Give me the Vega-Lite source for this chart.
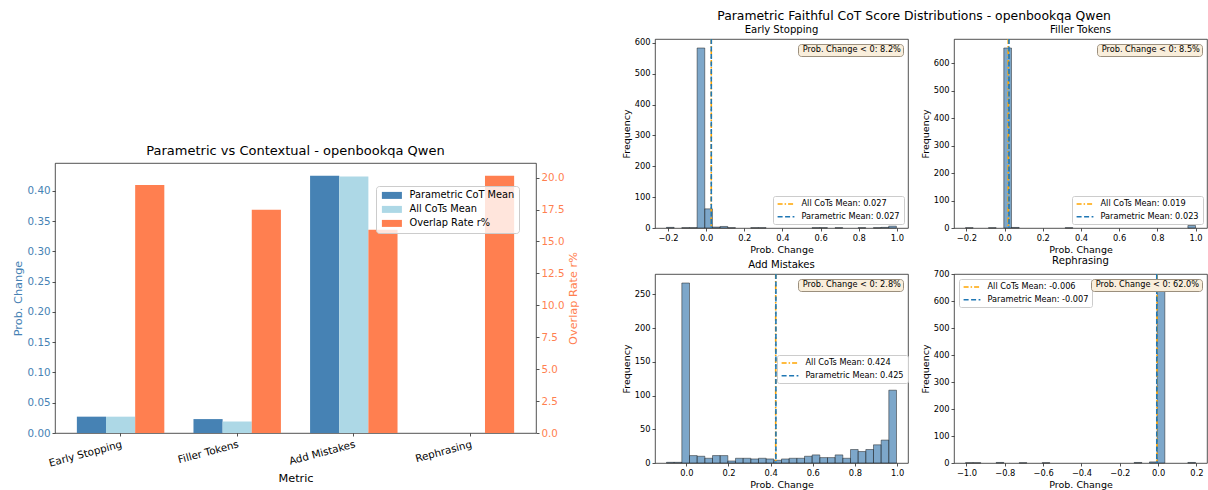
{
  "$schema": "https://vega.github.io/schema/vega-lite/v6.json",
  "padding": {"left": 11, "top": 9, "right": 0, "bottom": 0},
  "config": {
    "font": "DejaVu Sans",
    "background": "white",
    "view": {"stroke": "#262626", "strokeWidth": 0.8},
    "axis": {"grid": false, "domain": false, "tickColor": "#262626", "tickSize": 3, "tickWidth": 0.8, "labelColor": "#000", "titleColor": "#000", "labelFontSize": 8.3, "titleFontSize": 9.5, "titleFontWeight": "normal", "labelPadding": 2, "titlePadding": 3, "labelFlush": false, "labelOverlap": false, "labelFont": "DejaVu Sans", "titleFont": "DejaVu Sans"},
    "title": {"fontWeight": "normal", "color": "#000", "font": "DejaVu Sans"},
    "legend": {"labelFont": "DejaVu Sans", "labelColor": "#000"}
  },
  "datasets": {
    "overview": [
      {"metric": "Early Stopping", "series": "Parametric CoT Mean", "value": 0.027},
      {"metric": "Early Stopping", "series": "All CoTs Mean", "value": 0.027},
      {"metric": "Early Stopping", "series": "Overlap Rate r%", "value": 19.43},
      {"metric": "Filler Tokens", "series": "Parametric CoT Mean", "value": 0.023},
      {"metric": "Filler Tokens", "series": "All CoTs Mean", "value": 0.019},
      {"metric": "Filler Tokens", "series": "Overlap Rate r%", "value": 17.48},
      {"metric": "Add Mistakes", "series": "Parametric CoT Mean", "value": 0.425},
      {"metric": "Add Mistakes", "series": "All CoTs Mean", "value": 0.424},
      {"metric": "Add Mistakes", "series": "Overlap Rate r%", "value": 15.92},
      {"metric": "Rephrasing", "series": "Parametric CoT Mean", "value": 0},
      {"metric": "Rephrasing", "series": "All CoTs Mean", "value": 0},
      {"metric": "Rephrasing", "series": "Overlap Rate r%", "value": 20.14}
    ],
    "es_bins": [
      {"start": -0.208, "end": -0.1678, "count": 2},
      {"start": -0.1277, "end": -0.0875, "count": 1},
      {"start": -0.0875, "end": -0.0473, "count": 1},
      {"start": -0.0473, "end": -0.0072, "count": 583},
      {"start": -0.0072, "end": 0.033, "count": 62},
      {"start": 0.033, "end": 0.0732, "count": 3},
      {"start": 0.0732, "end": 0.1134, "count": 5},
      {"start": 0.1134, "end": 0.1535, "count": 1},
      {"start": 0.2339, "end": 0.274, "count": 1},
      {"start": 0.274, "end": 0.3142, "count": 1},
      {"start": 0.5552, "end": 0.5954, "count": 1},
      {"start": 0.5954, "end": 0.6356, "count": 1},
      {"start": 0.6757, "end": 0.7159, "count": 1},
      {"start": 0.7963, "end": 0.8364, "count": 1},
      {"start": 0.8766, "end": 0.9168, "count": 1},
      {"start": 0.9168, "end": 0.9569, "count": 2},
      {"start": 0.9569, "end": 0.9971, "count": 6}
    ],
    "ft_bins": [
      {"start": -0.205, "end": -0.1648, "count": 1},
      {"start": -0.0845, "end": -0.0443, "count": 1},
      {"start": -0.0042, "end": 0.036, "count": 655},
      {"start": 0.036, "end": 0.0762, "count": 2},
      {"start": 0.3172, "end": 0.3574, "count": 1},
      {"start": 0.9599, "end": 1.0, "count": 9}
    ],
    "am_bins": [
      {"start": -0.094, "end": -0.0576, "count": 1},
      {"start": -0.0576, "end": -0.0213, "count": 1},
      {"start": -0.0213, "end": 0.0151, "count": 267},
      {"start": 0.0151, "end": 0.0515, "count": 11},
      {"start": 0.0515, "end": 0.0879, "count": 10},
      {"start": 0.0879, "end": 0.1242, "count": 7},
      {"start": 0.1242, "end": 0.1606, "count": 11},
      {"start": 0.1606, "end": 0.197, "count": 11},
      {"start": 0.197, "end": 0.2333, "count": 3},
      {"start": 0.2333, "end": 0.2697, "count": 7},
      {"start": 0.2697, "end": 0.3061, "count": 7},
      {"start": 0.3061, "end": 0.3424, "count": 6},
      {"start": 0.3424, "end": 0.3788, "count": 7},
      {"start": 0.3788, "end": 0.4152, "count": 6},
      {"start": 0.4152, "end": 0.4516, "count": 4},
      {"start": 0.4516, "end": 0.4879, "count": 6},
      {"start": 0.4879, "end": 0.5243, "count": 7},
      {"start": 0.5243, "end": 0.5607, "count": 7},
      {"start": 0.5607, "end": 0.597, "count": 10},
      {"start": 0.597, "end": 0.6334, "count": 12},
      {"start": 0.6334, "end": 0.6698, "count": 8},
      {"start": 0.6698, "end": 0.7061, "count": 8},
      {"start": 0.7061, "end": 0.7425, "count": 12},
      {"start": 0.7425, "end": 0.7789, "count": 7},
      {"start": 0.7789, "end": 0.8153, "count": 20},
      {"start": 0.8153, "end": 0.8516, "count": 17},
      {"start": 0.8516, "end": 0.888, "count": 20},
      {"start": 0.888, "end": 0.9244, "count": 27},
      {"start": 0.9244, "end": 0.9607, "count": 34},
      {"start": 0.9607, "end": 0.9971, "count": 108}
    ],
    "re_bins": [
      {"start": -1.005, "end": -0.965, "count": 1},
      {"start": -0.965, "end": -0.925, "count": 1},
      {"start": -0.845, "end": -0.805, "count": 2},
      {"start": -0.725, "end": -0.685, "count": 1},
      {"start": -0.605, "end": -0.565, "count": 1},
      {"start": -0.125, "end": -0.085, "count": 2},
      {"start": -0.045, "end": -0.005, "count": 4},
      {"start": -0.005, "end": 0.035, "count": 667},
      {"start": 0.155, "end": 0.195, "count": 2}
    ],
    "es_means": [{"label": "All CoTs Mean: 0.027", "mean": 0.027}, {"label": "Parametric Mean: 0.027", "mean": 0.027}],
    "ft_means": [{"label": "All CoTs Mean: 0.019", "mean": 0.019}, {"label": "Parametric Mean: 0.023", "mean": 0.023}],
    "am_means": [{"label": "All CoTs Mean: 0.424", "mean": 0.424}, {"label": "Parametric Mean: 0.425", "mean": 0.425}],
    "re_means": [{"label": "All CoTs Mean: -0.006", "mean": -0.006}, {"label": "Parametric Mean: -0.007", "mean": -0.007}],
    "es_note": [{"note": "Prob. Change < 0: 8.2%"}],
    "ft_note": [{"note": "Prob. Change < 0: 8.5%"}],
    "am_note": [{"note": "Prob. Change < 0: 2.8%"}],
    "re_note": [{"note": "Prob. Change < 0: 62.0%"}]
  },
  "resolve": {"scale": {"color": "independent", "strokeDash": "independent", "shape": "independent"}, "legend": {"color": "independent", "strokeDash": "independent", "shape": "independent"}},
  "spacing": 40,
  "hconcat": [
    {
      "spacing": 0,
      "resolve": {"scale": {"color": "independent"}, "legend": {"color": "independent"}},
      "vconcat": [
        {"width": 481, "height": 105, "data": {"values": []}, "mark": "point", "view": {"stroke": null}},
        {
          "width": 481,
          "height": 270,
          "title": {"text": "Parametric vs Contextual - openbookqa Qwen", "fontSize": 13, "frame": "group", "offset": 5},
          "data": {"name": "overview"},
          "layer": [
            {
              "transform": [{"filter": "datum.series !== 'Overlap Rate r%'"}],
              "mark": {"type": "bar"},
              "encoding": {
                "x": {"field": "metric", "type": "nominal", "sort": ["Early Stopping", "Filler Tokens", "Add Mistakes", "Rephrasing"], "scale": {"paddingInner": 0.25, "paddingOuter": 0.1875}, "axis": {"title": "Metric", "labelAngle": -15, "labelAlign": "right", "labelBaseline": "top", "bandPosition": 0.5, "labelFontSize": 10.3, "titleFontSize": 11.3, "labelPadding": 3, "titlePadding": 4}},
                "xOffset": {"field": "series", "type": "nominal", "sort": ["Parametric CoT Mean", "All CoTs Mean", "Overlap Rate r%"], "scale": {"domain": ["Parametric CoT Mean", "All CoTs Mean", "Overlap Rate r%"], "paddingInner": 0, "paddingOuter": 0}},
                "y": {"field": "value", "type": "quantitative", "scale": {"domain": [0, 0.44625], "nice": false}, "axis": {"title": "Prob. Change", "values": [0, 0.05, 0.1, 0.15, 0.2, 0.25, 0.3, 0.35, 0.4], "format": ".2f", "labelColor": "#4682b4", "titleColor": "#4682b4", "labelFontSize": 10.3, "titleFontSize": 11.3, "titlePadding": 4}},
                "color": {"field": "series", "type": "nominal", "scale": {"domain": ["Parametric CoT Mean", "All CoTs Mean", "Overlap Rate r%"], "range": ["#4682b4", "#add8e6", "#ff7f50"]}, "legend": {"title": null, "orient": "none", "legendX": 321, "legendY": 23, "fillColor": "rgba(255,255,255,0.8)", "strokeColor": "#cccccc", "cornerRadius": 3, "padding": 4.5, "rowPadding": 3, "labelFontSize": 9.8, "labelOffset": 12.7, "symbolOffset": 6.5, "symbolType": "M-2.86,-1H2.86V1H-2.86Z", "symbolSize": 49, "symbolStrokeWidth": 0}}
              }
            },
            {
              "transform": [{"filter": "datum.series === 'Overlap Rate r%'"}],
              "mark": {"type": "bar"},
              "encoding": {
                "x": {"field": "metric", "type": "nominal", "sort": ["Early Stopping", "Filler Tokens", "Add Mistakes", "Rephrasing"], "scale": {"paddingInner": 0.25, "paddingOuter": 0.1875}},
                "xOffset": {"field": "series", "type": "nominal", "sort": ["Parametric CoT Mean", "All CoTs Mean", "Overlap Rate r%"], "scale": {"domain": ["Parametric CoT Mean", "All CoTs Mean", "Overlap Rate r%"], "paddingInner": 0, "paddingOuter": 0}},
                "y": {"field": "value", "type": "quantitative", "scale": {"domain": [0, 21.147], "nice": false}, "axis": {"orient": "right", "title": "Overlap Rate r%", "titleAngle": -90, "titleBaseline": "top", "values": [0, 2.5, 5, 7.5, 10, 12.5, 15, 17.5, 20], "format": ".1f", "labelColor": "#ff7f50", "titleColor": "#ff7f50", "labelFontSize": 10.3, "titleFontSize": 11.3, "titlePadding": 4}},
                "color": {"field": "series", "type": "nominal", "scale": {"domain": ["Parametric CoT Mean", "All CoTs Mean", "Overlap Rate r%"], "range": ["#4682b4", "#add8e6", "#ff7f50"]}}
              }
            }
          ],
          "resolve": {"scale": {"y": "independent"}}
        }
      ]
    },
    {
      "title": {"text": "Parametric Faithful CoT Score Distributions - openbookqa Qwen", "fontSize": 12.4, "offset": 2, "anchor": "middle"},
      "spacing": 0,
      "resolve": {"scale": {"color": "independent", "strokeDash": "independent", "shape": "independent"}, "legend": {"color": "independent", "strokeDash": "independent", "shape": "independent"}},
      "vconcat": [
        {
          "spacing": 10,
          "resolve": {"scale": {"color": "independent", "strokeDash": "independent", "shape": "independent"}, "legend": {"color": "independent", "strokeDash": "independent", "shape": "independent"}},
          "hconcat": [
            {
              "width": 253, "height": 189,
              "title": {"text": "Early Stopping", "fontSize": 10.1, "frame": "group", "offset": 3},
              "layer": [
                {
                  "data": {"name": "es_bins"},
                  "mark": {"type": "rect", "fill": "#4682b4", "fillOpacity": 0.7, "stroke": "#1a1a1a", "strokeOpacity": 0.7, "strokeWidth": 0.7},
                  "encoding": {
                    "x": {"field": "start", "type": "quantitative", "scale": {"domain": [-0.268, 1.058], "nice": false, "zero": false}, "axis": {"title": "Prob. Change", "values": [-0.2, 0, 0.2, 0.4, 0.6, 0.8, 1.0], "format": ".1f"}},
                    "x2": {"field": "end"},
                    "y": {"field": "count", "type": "quantitative", "scale": {"domain": [0, 612.15], "nice": false}, "axis": {"title": "Frequency", "values": [0, 100, 200, 300, 400, 500, 600]}},
                    "y2": {"datum": 0}
                  }
                },
                {
                  "data": {"name": "es_means"},
                  "mark": {"type": "rule", "strokeWidth": 1.6},
                  "encoding": {
                    "x": {"field": "mean", "type": "quantitative", "scale": {"domain": [-0.268, 1.058], "nice": false, "zero": false}},
                    "color": {"field": "label", "type": "nominal", "sort": null, "scale": {"range": ["#ffa500", "#1f77b4"]}, "legend": {"title": null, "orient": "bottom-right", "offset": 4, "fillColor": "rgba(255,255,255,0.8)", "strokeColor": "#cccccc", "cornerRadius": 2, "padding": 3.5, "rowPadding": 3.8, "labelFontSize": 8.2, "labelOffset": 11, "symbolOffset": 5, "symbolType": "M-2.4,0H2.4", "symbolSize": 49, "symbolStrokeWidth": 1.5}},
                    "strokeDash": {"field": "label", "type": "nominal", "sort": null, "scale": {"range": [[5, 2, 1.5, 2], [5, 2.5]]}, "legend": {"title": null, "orient": "bottom-right", "offset": 4, "fillColor": "rgba(255,255,255,0.8)", "strokeColor": "#cccccc", "cornerRadius": 2, "padding": 3.5, "rowPadding": 3.8, "labelFontSize": 8.2, "labelOffset": 11, "symbolOffset": 5, "symbolType": "M-2.4,0H2.4", "symbolSize": 49, "symbolStrokeWidth": 1.5}}
                  }
                },
                {
                  "data": {"name": "es_note"},
                  "mark": {"type": "point", "opacity": 0},
                  "encoding": {"shape": {"field": "note", "type": "nominal", "legend": {"title": null, "orient": "top-right", "offset": 5, "fillColor": "#f9eedb", "strokeColor": "#9b8f7d", "cornerRadius": 3, "padding": 2, "labelFontSize": 8.2, "symbolSize": 0, "symbolOpacity": 0, "symbolStrokeWidth": 0, "labelOffset": -5.5}}}
                }
              ]
            },
            {
              "width": 253, "height": 189,
              "title": {"text": "Filler Tokens", "fontSize": 10.1, "frame": "group", "offset": 3},
              "layer": [
                {
                  "data": {"name": "ft_bins"},
                  "mark": {"type": "rect", "fill": "#4682b4", "fillOpacity": 0.7, "stroke": "#1a1a1a", "strokeOpacity": 0.7, "strokeWidth": 0.7},
                  "encoding": {
                    "x": {"field": "start", "type": "quantitative", "scale": {"domain": [-0.265, 1.06], "nice": false, "zero": false}, "axis": {"title": "Prob. Change", "values": [-0.2, 0, 0.2, 0.4, 0.6, 0.8, 1.0], "format": ".1f"}},
                    "x2": {"field": "end"},
                    "y": {"field": "count", "type": "quantitative", "scale": {"domain": [0, 687.75], "nice": false}, "axis": {"title": "Frequency", "values": [0, 100, 200, 300, 400, 500, 600]}},
                    "y2": {"datum": 0}
                  }
                },
                {
                  "data": {"name": "ft_means"},
                  "mark": {"type": "rule", "strokeWidth": 1.6},
                  "encoding": {
                    "x": {"field": "mean", "type": "quantitative", "scale": {"domain": [-0.265, 1.06], "nice": false, "zero": false}},
                    "color": {"field": "label", "type": "nominal", "sort": null, "scale": {"range": ["#ffa500", "#1f77b4"]}, "legend": {"title": null, "orient": "bottom-right", "offset": 4, "fillColor": "rgba(255,255,255,0.8)", "strokeColor": "#cccccc", "cornerRadius": 2, "padding": 3.5, "rowPadding": 3.8, "labelFontSize": 8.2, "labelOffset": 11, "symbolOffset": 5, "symbolType": "M-2.4,0H2.4", "symbolSize": 49, "symbolStrokeWidth": 1.5}},
                    "strokeDash": {"field": "label", "type": "nominal", "sort": null, "scale": {"range": [[5, 2, 1.5, 2], [5, 2.5]]}, "legend": {"title": null, "orient": "bottom-right", "offset": 4, "fillColor": "rgba(255,255,255,0.8)", "strokeColor": "#cccccc", "cornerRadius": 2, "padding": 3.5, "rowPadding": 3.8, "labelFontSize": 8.2, "labelOffset": 11, "symbolOffset": 5, "symbolType": "M-2.4,0H2.4", "symbolSize": 49, "symbolStrokeWidth": 1.5}}
                  }
                },
                {
                  "data": {"name": "ft_note"},
                  "mark": {"type": "point", "opacity": 0},
                  "encoding": {"shape": {"field": "note", "type": "nominal", "legend": {"title": null, "orient": "top-right", "offset": 5, "fillColor": "#f9eedb", "strokeColor": "#9b8f7d", "cornerRadius": 3, "padding": 2, "labelFontSize": 8.2, "symbolSize": 0, "symbolOpacity": 0, "symbolStrokeWidth": 0, "labelOffset": -5.5}}}
                }
              ]
            }
          ]
        },
        {
          "spacing": 10,
          "resolve": {"scale": {"color": "independent", "strokeDash": "independent", "shape": "independent"}, "legend": {"color": "independent", "strokeDash": "independent", "shape": "independent"}},
          "hconcat": [
            {
              "width": 253, "height": 189,
              "title": {"text": "Add Mistakes", "fontSize": 10.1, "frame": "group", "offset": 3},
              "layer": [
                {
                  "data": {"name": "am_bins"},
                  "mark": {"type": "rect", "fill": "#4682b4", "fillOpacity": 0.7, "stroke": "#1a1a1a", "strokeOpacity": 0.7, "strokeWidth": 0.7},
                  "encoding": {
                    "x": {"field": "start", "type": "quantitative", "scale": {"domain": [-0.1486, 1.0517], "nice": false, "zero": false}, "axis": {"title": "Prob. Change", "values": [0, 0.2, 0.4, 0.6, 0.8, 1.0], "format": ".1f"}},
                    "x2": {"field": "end"},
                    "y": {"field": "count", "type": "quantitative", "scale": {"domain": [0, 280.35], "nice": false}, "axis": {"title": "Frequency", "values": [0, 50, 100, 150, 200, 250]}},
                    "y2": {"datum": 0}
                  }
                },
                {
                  "data": {"name": "am_means"},
                  "mark": {"type": "rule", "strokeWidth": 1.6},
                  "encoding": {
                    "x": {"field": "mean", "type": "quantitative", "scale": {"domain": [-0.1486, 1.0517], "nice": false, "zero": false}},
                    "color": {"field": "label", "type": "nominal", "sort": null, "scale": {"range": ["#ffa500", "#1f77b4"]}, "legend": {"title": null, "orient": "none", "legendX": 122, "legendY": 81, "fillColor": "rgba(255,255,255,0.8)", "strokeColor": "#cccccc", "cornerRadius": 2, "padding": 3.5, "rowPadding": 3.8, "labelFontSize": 8.2, "labelOffset": 11, "symbolOffset": 5, "symbolType": "M-2.4,0H2.4", "symbolSize": 49, "symbolStrokeWidth": 1.5}},
                    "strokeDash": {"field": "label", "type": "nominal", "sort": null, "scale": {"range": [[5, 2, 1.5, 2], [5, 2.5]]}, "legend": {"title": null, "orient": "none", "legendX": 122, "legendY": 81, "fillColor": "rgba(255,255,255,0.8)", "strokeColor": "#cccccc", "cornerRadius": 2, "padding": 3.5, "rowPadding": 3.8, "labelFontSize": 8.2, "labelOffset": 11, "symbolOffset": 5, "symbolType": "M-2.4,0H2.4", "symbolSize": 49, "symbolStrokeWidth": 1.5}}
                  }
                },
                {
                  "data": {"name": "am_note"},
                  "mark": {"type": "point", "opacity": 0},
                  "encoding": {"shape": {"field": "note", "type": "nominal", "legend": {"title": null, "orient": "top-right", "offset": 5, "fillColor": "#f9eedb", "strokeColor": "#9b8f7d", "cornerRadius": 3, "padding": 2, "labelFontSize": 8.2, "symbolSize": 0, "symbolOpacity": 0, "symbolStrokeWidth": 0, "labelOffset": -5.5}}}
                }
              ]
            },
            {
              "width": 253, "height": 189,
              "title": {"text": "Rephrasing", "fontSize": 10.1, "frame": "group", "offset": 3},
              "layer": [
                {
                  "data": {"name": "re_bins"},
                  "mark": {"type": "rect", "fill": "#4682b4", "fillOpacity": 0.7, "stroke": "#1a1a1a", "strokeOpacity": 0.7, "strokeWidth": 0.7},
                  "encoding": {
                    "x": {"field": "start", "type": "quantitative", "scale": {"domain": [-1.065, 0.255], "nice": false, "zero": false}, "axis": {"title": "Prob. Change", "values": [-1.0, -0.8, -0.6, -0.4, -0.2, 0, 0.2], "format": ".1f"}},
                    "x2": {"field": "end"},
                    "y": {"field": "count", "type": "quantitative", "scale": {"domain": [0, 700], "nice": false}, "axis": {"title": "Frequency", "values": [0, 100, 200, 300, 400, 500, 600, 700]}},
                    "y2": {"datum": 0}
                  }
                },
                {
                  "data": {"name": "re_means"},
                  "mark": {"type": "rule", "strokeWidth": 1.6},
                  "encoding": {
                    "x": {"field": "mean", "type": "quantitative", "scale": {"domain": [-1.065, 0.255], "nice": false, "zero": false}},
                    "color": {"field": "label", "type": "nominal", "sort": null, "scale": {"range": ["#ffa500", "#1f77b4"]}, "legend": {"title": null, "orient": "top-left", "offset": 5, "fillColor": "rgba(255,255,255,0.8)", "strokeColor": "#cccccc", "cornerRadius": 2, "padding": 3.5, "rowPadding": 3.8, "labelFontSize": 8.2, "labelOffset": 11, "symbolOffset": 5, "symbolType": "M-2.4,0H2.4", "symbolSize": 49, "symbolStrokeWidth": 1.5}},
                    "strokeDash": {"field": "label", "type": "nominal", "sort": null, "scale": {"range": [[5, 2, 1.5, 2], [5, 2.5]]}, "legend": {"title": null, "orient": "top-left", "offset": 5, "fillColor": "rgba(255,255,255,0.8)", "strokeColor": "#cccccc", "cornerRadius": 2, "padding": 3.5, "rowPadding": 3.8, "labelFontSize": 8.2, "labelOffset": 11, "symbolOffset": 5, "symbolType": "M-2.4,0H2.4", "symbolSize": 49, "symbolStrokeWidth": 1.5}}
                  }
                },
                {
                  "data": {"name": "re_note"},
                  "mark": {"type": "point", "opacity": 0},
                  "encoding": {"shape": {"field": "note", "type": "nominal", "legend": {"title": null, "orient": "top-right", "offset": 5, "fillColor": "#f9eedb", "strokeColor": "#9b8f7d", "cornerRadius": 3, "padding": 2, "labelFontSize": 8.2, "symbolSize": 0, "symbolOpacity": 0, "symbolStrokeWidth": 0, "labelOffset": -5.5}}}
                }
              ]
            }
          ]
        }
      ]
    }
  ]
}
